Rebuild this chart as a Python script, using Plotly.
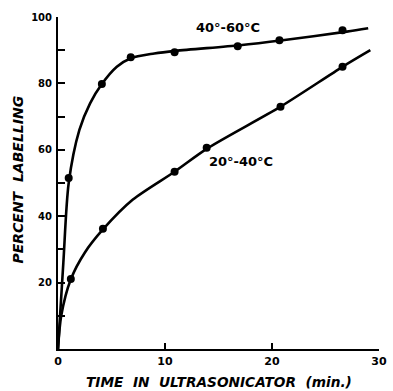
import plotly.graph_objects as go

# Measured points
t_hot = [1.0, 4.1, 6.8, 10.9, 16.8, 20.7, 26.6]
p_hot = [51.5, 79.8, 87.9, 89.4, 91.2, 93.0, 96.0]
t_cold = [1.2, 4.2, 10.9, 13.9, 20.8, 26.6]
p_cold = [21.1, 36.2, 53.4, 60.6, 73.0, 85.0]

# Hand-drawn fitted curves
curve_hot_t = [0, 0.5, 1.0, 2.0, 3.0, 4.1, 5.5, 6.8, 9.0, 11.0, 17.0, 21.0, 27.0, 29.0]
curve_hot_p = [0, 26, 50, 66, 74, 79.8, 85, 87.6, 89.0, 89.8, 91.5, 93.0, 95.6, 96.6]
curve_cold_t = [0, 0.3, 1.2, 2.5, 4.2, 7.0, 10.9, 14.0, 20.8, 26.6, 29.2]
curve_cold_p = [0, 10, 21, 29, 36, 45, 53.4, 60.5, 73, 85, 90]

x_ticks = [0, 10, 20, 30]
y_ticks = [20, 40, 60, 80, 100]
y_minor = [10, 30, 50, 70, 90]

label_hot = "40°-60°C"
label_cold = "20°-40°C"
x_title = "TIME IN ULTRASONICATOR (min.)"
y_title = "PERCENT LABELLING"

FONT = "DejaVu Sans"


def spaced(s):
    return s.replace(" ", "\u00a0\u00a0")


fig = go.Figure()
for cx, cy in ((curve_hot_t, curve_hot_p), (curve_cold_t, curve_cold_p)):
    fig.add_trace(go.Scatter(x=cx, y=cy, mode="lines",
                             line=dict(color="black", width=2.6, shape="spline", smoothing=0.8),
                             hoverinfo="skip", showlegend=False))
for px, py in ((t_hot, p_hot), (t_cold, p_cold)):
    fig.add_trace(go.Scatter(x=px, y=py, mode="markers",
                             marker=dict(color="black", size=8), showlegend=False, cliponaxis=False))

fig.add_annotation(x=15.9, y=96.7, text="<b>" + label_hot + "</b>", showarrow=False,
                   font=dict(family=FONT, size=13, color="black"))
fig.add_annotation(x=17.1, y=56.5, text="<b>" + label_cold + "</b>", showarrow=False,
                   font=dict(family=FONT, size=13, color="black"))

fig.add_annotation(xref="paper", yref="paper", x=0.5, y=-0.1, yanchor="middle",
                   text="<b><i>" + spaced(x_title) + "</i></b>",
                   showarrow=False, font=dict(family=FONT, size=13.7, color="black"))
fig.add_annotation(xref="paper", yref="paper", x=-0.125, y=0.51, xanchor="center", textangle=-90,
                   text="<b><i>" + spaced(y_title) + "</i></b>",
                   showarrow=False, font=dict(family=FONT, size=14, color="black"))

fig.update_layout(
    width=393, height=391,
    margin=dict(l=58, r=6, t=17, b=42),
    paper_bgcolor="white", plot_bgcolor="white",
    font=dict(family=FONT, color="black"),
    xaxis=dict(range=[0, 30.01], tickvals=x_ticks, ticktext=["<b>%d</b>" % v for v in x_ticks],
               ticks="inside", ticklen=6, tickwidth=1.5, tickcolor="black",
               showline=True, linecolor="black", linewidth=2, showgrid=False, zeroline=False,
               tickfont=dict(size=11, family=FONT), ticklabelstandoff=1, ticklabeloverflow="allow"),
    yaxis=dict(range=[0, 100], tickvals=y_ticks,
               ticktext=["<b>%d</b>" % v for v in y_ticks],
               ticks="inside", ticklen=7, tickwidth=1.5, tickcolor="black",
               minor=dict(tickvals=y_minor, ticks="inside", ticklen=7, tickwidth=1.5, tickcolor="black"),
               showline=True, linecolor="black", linewidth=2, showgrid=False, zeroline=False,
               tickfont=dict(size=10, family=FONT), ticklabelstandoff=2, ticklabeloverflow="allow"),
)

fig.write_html("out.html")
